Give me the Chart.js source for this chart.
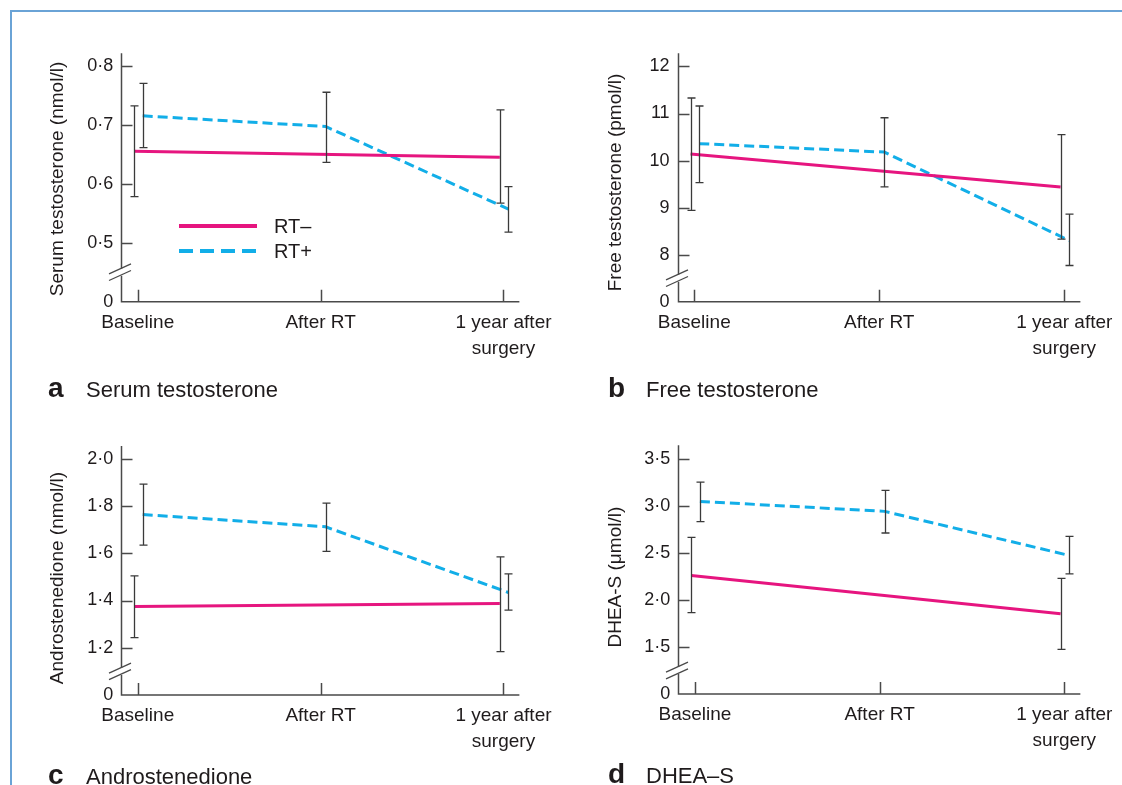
<!DOCTYPE html>
<html>
<head>
<meta charset="utf-8">
<script src="https://cdn.jsdelivr.net/npm/chart.js@4.4.1/dist/chart.umd.min.js"></script>
<style>
  html, body { margin: 0; padding: 0; background: #fff; }
  body { width: 1122px; height: 785px; position: relative; overflow: hidden;
         font-family: "Liberation Sans", Arial, sans-serif; color: #1f1b1c; }
  .frame-top { position: absolute; left: 10px; top: 10px; right: 0; height: 2px; background: #6aa3d6; }
  .frame-left { position: absolute; left: 10px; top: 10px; width: 2px; bottom: 0; background: #6aa3d6; }
  canvas { position: absolute; }
  .letter { position: absolute; font-weight: bold; font-size: 28px; line-height: 1; white-space: nowrap; }
  .caption { position: absolute; font-size: 22px; line-height: 1; white-space: nowrap; }
  .key { position: absolute; font-size: 20px; line-height: 20px; height: 20px; white-space: nowrap; }
  .key svg { position: absolute; left: 0; top: 7px; }
  .key span { position: absolute; left: 95px; top: 0; }
</style>
</head>
<body>
<div class="frame-top"></div>
<div class="frame-left"></div>

<canvas id="serum"></canvas>
<canvas id="free"></canvas>
<canvas id="andro"></canvas>
<canvas id="dhea"></canvas>

<div class="key" style="left:179px; top:216px;">
  <svg width="80" height="6"><line x1="0" y1="3" x2="78" y2="3" stroke="#e6157f" stroke-width="4"/></svg>
  <span id="key0"></span>
</div>
<div class="key" style="left:179px; top:241px;">
  <svg width="80" height="6"><line x1="0" y1="3" x2="78" y2="3" stroke="#12aee8" stroke-width="4" stroke-dasharray="14 7"/></svg>
  <span id="key1"></span>
</div>

<div class="letter" style="left:48px; top:374px;">a</div>
<div class="caption" style="left:86px; top:379px;">Serum testosterone</div>
<div class="letter" style="left:608px; top:374px;">b</div>
<div class="caption" style="left:646px; top:379px;">Free testosterone</div>
<div class="letter" style="left:48px; top:761px;">c</div>
<div class="caption" style="left:86px; top:766px;">Androstenedione</div>
<div class="letter" style="left:608px; top:760px;">d</div>
<div class="caption" style="left:646px; top:765px;">DHEA–S</div>

<script>
const CATEGORIES = [["Baseline"], ["After RT"], ["1 year after", "surgery"]];
const SERIES = ["RT–", "RT+"];

// a  serum testosterone (nmol/l); RT– has no value after RT
const SERUM_MINUS = [0.655, null, 0.645];
const SERUM_MINUS_LO = [0.578, null, 0.567];
const SERUM_MINUS_HI = [0.732, null, 0.725];
const SERUM_PLUS = [0.715, 0.697, 0.557];
const SERUM_PLUS_LO = [0.661, 0.636, 0.518];
const SERUM_PLUS_HI = [0.770, 0.755, 0.595];
const SERUM_TICKS = [0.4, 0.5, 0.6, 0.7, 0.8];          // first tick sits under the break, labelled 0
const SERUM_TICK_LABELS = ["0", "0·5", "0·6", "0·7", "0·8"];

// b  free testosterone (pmol/l)
const FREE_MINUS = [10.14, null, 9.44];
const FREE_MINUS_LO = [8.94, null, 8.33];
const FREE_MINUS_HI = [11.33, null, 10.55];
const FREE_PLUS = [10.36, 10.18, 8.30];
const FREE_PLUS_LO = [9.53, 9.44, 7.77];
const FREE_PLUS_HI = [11.16, 10.91, 8.86];
const FREE_TICKS = [7, 8, 9, 10, 11, 12];
const FREE_TICK_LABELS = ["0", "8", "9", "10", "11", "12"];

// c  androstenedione (nmol/l)
const ANDRO_MINUS = [1.375, null, 1.387];
const ANDRO_MINUS_LO = [1.243, null, 1.184];
const ANDRO_MINUS_HI = [1.504, null, 1.585];
const ANDRO_PLUS = [1.764, 1.712, 1.434];
const ANDRO_PLUS_LO = [1.634, 1.608, 1.359];
const ANDRO_PLUS_HI = [1.893, 1.812, 1.513];
const ANDRO_TICKS = [1.0, 1.2, 1.4, 1.6, 1.8, 2.0];
const ANDRO_TICK_LABELS = ["0", "1·2", "1·4", "1·6", "1·8", "2·0"];

// d  DHEA-S (µmol/l)
const DHEA_MINUS = [2.262, null, 1.854];
const DHEA_MINUS_LO = [1.865, null, 1.474];
const DHEA_MINUS_HI = [2.666, null, 2.230];
const DHEA_PLUS = [3.049, 2.943, 2.474];
const DHEA_PLUS_LO = [2.833, 2.713, 2.277];
const DHEA_PLUS_HI = [3.255, 3.166, 2.677];
const DHEA_TICKS = [1.0, 1.5, 2.0, 2.5, 3.0, 3.5];
const DHEA_TICK_LABELS = ["0", "1·5", "2·0", "2·5", "3·0", "3·5"];

const PINK = "#e6157f";
const CYAN = "#12aee8";
const AXIS = "#4a4a4a";
const TEXT = "#1f1b1c";
const FONT = "'Liberation Sans', Arial, sans-serif";
const OFFSET = [-0.02, 0.027];   // RT– drawn just left of each category, RT+ just right

document.getElementById("key0").textContent = SERIES[0];
document.getElementById("key1").textContent = SERIES[1];

// box = canvas rect on the page, area = wanted plot rect on the page
const panels = [
  { id: "serum", box: [0, 0, 561, 420], area: [121.3, 53.3, 524, 301.7], titleX: 57.3, titleShift: 1.5, yMax: 0.821,
    title: "Serum testosterone (nmol/l)", ticks: SERUM_TICKS, labels: SERUM_TICK_LABELS,
    minus: [SERUM_MINUS, SERUM_MINUS_LO, SERUM_MINUS_HI], plus: [SERUM_PLUS, SERUM_PLUS_LO, SERUM_PLUS_HI] },
  { id: "free", box: [561, 0, 561, 420], area: [677.6, 53.3, 1080.4, 301.7], titleX: 615.6, titleShift: 5, yMax: 12.28,
    title: "Free testosterone (pmol/l)", ticks: FREE_TICKS, labels: FREE_TICK_LABELS,
    minus: [FREE_MINUS, FREE_MINUS_LO, FREE_MINUS_HI], plus: [FREE_PLUS, FREE_PLUS_LO, FREE_PLUS_HI] },
  { id: "andro", box: [0, 420, 561, 365], area: [121.3, 446, 524, 695], titleX: 57.3, titleShift: 7.5, yMax: 2.054,
    title: "Androstenedione (nmol/l)", ticks: ANDRO_TICKS, labels: ANDRO_TICK_LABELS,
    minus: [ANDRO_MINUS, ANDRO_MINUS_LO, ANDRO_MINUS_HI], plus: [ANDRO_PLUS, ANDRO_PLUS_LO, ANDRO_PLUS_HI] },
  { id: "dhea", box: [561, 420, 561, 365], area: [678.3, 445.3, 1080.4, 694], titleX: 615.6, titleShift: 7.5, yMax: 3.646,
    title: "DHEA-S (μmol/l)", ticks: DHEA_TICKS, labels: DHEA_TICK_LABELS,
    minus: [DHEA_MINUS, DHEA_MINUS_LO, DHEA_MINUS_HI], plus: [DHEA_PLUS, DHEA_PLUS_LO, DHEA_PLUS_HI] },
];

function points(vals, lo, hi, offset) {
  return vals.map((v, i) => v === null ? null : { x: i + offset, y: v, lo: lo[i], hi: hi[i] })
             .filter(p => p !== null);
}

// error bars with small caps, drawn over the lines
const errorBars = {
  id: "errorBars",
  afterDatasetsDraw(chart) {
    const { ctx, scales: { x, y } } = chart;
    ctx.save();
    ctx.strokeStyle = "#3a3a3a";
    ctx.lineWidth = 1.3;
    ctx.beginPath();
    chart.data.datasets.forEach(ds => {
      ds.data.forEach(p => {
        const px = Math.round(x.getPixelForValue(p.x)) + 0.5;
        const yt = y.getPixelForValue(p.hi);
        const yb = y.getPixelForValue(p.lo);
        ctx.moveTo(px, yt); ctx.lineTo(px, yb);
        ctx.moveTo(px - 4, yt); ctx.lineTo(px + 4, yt);
        ctx.moveTo(px - 4, yb); ctx.lineTo(px + 4, yb);
      });
    });
    ctx.stroke();
    ctx.restore();
  }
};

// axes with inward ticks, a broken y axis between 0 and the first real tick, and the y title
const brokenAxes = {
  id: "brokenAxes",
  afterDraw(chart, args, opts) {
    const { ctx, chartArea: { left, right, top, bottom }, scales: { x, y } } = chart;
    const ax = Math.round(left) + 0.5;
    const yb = y.getPixelForValue((y.ticks[0].value + y.ticks[1].value) / 2);
    ctx.save();
    ctx.strokeStyle = AXIS;
    ctx.lineWidth = 1.5;
    ctx.beginPath();
    ctx.moveTo(ax, top); ctx.lineTo(ax, yb - 3.5);
    ctx.moveTo(ax, yb + 3.5); ctx.lineTo(ax, bottom); ctx.lineTo(right, bottom);
    y.ticks.slice(1).forEach(t => {
      const py = Math.round(y.getPixelForValue(t.value)) + 0.5;
      ctx.moveTo(ax, py); ctx.lineTo(ax + 11, py);
    });
    x.ticks.forEach(t => {
      const px = Math.round(x.getPixelForValue(t.value)) + 0.5;
      ctx.moveTo(px, bottom); ctx.lineTo(px, bottom - 12);
    });
    ctx.stroke();
    ctx.lineWidth = 1.3;
    ctx.beginPath();
    [-3.3, 3.3].forEach(d => {
      ctx.moveTo(ax - 12.5, yb + d + 5); ctx.lineTo(ax + 9.5, yb + d - 5);
    });
    ctx.stroke();

    ctx.translate(opts.x, (top + bottom) / 2 + opts.shift);
    ctx.rotate(-Math.PI / 2);
    ctx.fillStyle = TEXT;
    ctx.font = "19px " + FONT;
    ctx.textAlign = "center";
    ctx.textBaseline = "middle";
    ctx.fillText(opts.text, 0, 0);
    ctx.restore();
  }
};

panels.forEach(p => {
  const [bx, by, bw, bh] = p.box;
  const [al, at, ar, ab] = p.area;
  const xHeight = 60;
  const canvas = document.getElementById(p.id);
  canvas.width = bw; canvas.height = bh;
  canvas.style.left = bx + "px"; canvas.style.top = by + "px";
  canvas.style.width = bw + "px"; canvas.style.height = bh + "px";

  new Chart(canvas, {
    type: "line",
    data: {
      datasets: [
        { label: SERIES[0], data: points(p.minus[0], p.minus[1], p.minus[2], OFFSET[0]),
          borderColor: PINK, borderWidth: 3, pointRadius: 0, tension: 0 },
        { label: SERIES[1], data: points(p.plus[0], p.plus[1], p.plus[2], OFFSET[1]),
          borderColor: CYAN, borderWidth: 3, borderDash: [10, 5], pointRadius: 0, tension: 0 },
      ],
    },
    options: {
      responsive: false,
      animation: false,
      devicePixelRatio: 1,
      layout: {
        padding: { left: 0, top: at - by, right: bx + bw - ar, bottom: by + bh - ab - xHeight },
      },
      plugins: {
        legend: { display: false },
        tooltip: { enabled: false },
        brokenAxes: { text: p.title, x: p.titleX - bx, shift: p.titleShift },
      },
      scales: {
        x: {
          type: "linear",
          min: -0.09, max: 2.087,
          grid: { display: false, drawTicks: false },
          border: { display: false },
          afterBuildTicks: s => { s.ticks = CATEGORIES.map((_, i) => ({ value: i })); },
          afterFit: s => { s.height = xHeight; },
          ticks: {
            autoSkip: false, maxRotation: 0, minRotation: 0, padding: 8, color: TEXT,
            font: { family: FONT, size: 19, lineHeight: 26 / 19 },
            callback: v => CATEGORIES[v],
          },
        },
        y: {
          min: p.ticks[0], max: p.yMax,
          grid: { display: false, drawTicks: false },
          border: { display: false },
          afterBuildTicks: s => { s.ticks = p.ticks.map(v => ({ value: v })); },
          afterFit: s => { s.width = al - bx; },
          ticks: {
            padding: 8, color: TEXT,
            font: { family: FONT, size: 18 },
            callback: (v, i) => p.labels[i],
          },
        },
      },
    },
    plugins: [errorBars, brokenAxes],
  });
});
</script>
</body>
</html>
